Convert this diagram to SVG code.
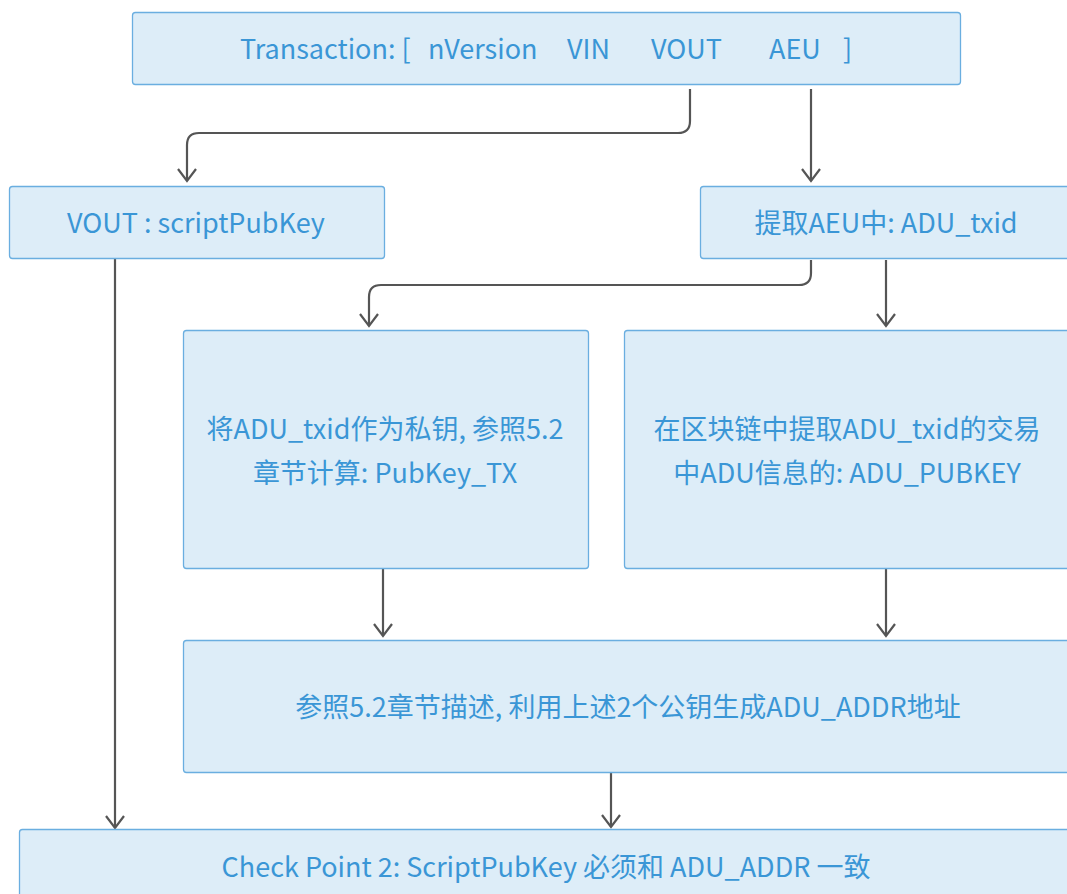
<svg xmlns="http://www.w3.org/2000/svg" width="1067" height="894" viewBox="0 0 1067 894">
<style>
.box{fill:#ddedf8;stroke:#6aaee0;stroke-width:1.3}
.t{font-family:"Noto Sans CJK SC","Noto Sans",sans-serif;font-size:27px;fill:#3a96d6;text-anchor:middle}
.c{fill:none;stroke:#555;stroke-width:2.2}
</style>
<defs>
<marker id="ah" viewBox="0 0 14 20" refX="13" refY="10" markerWidth="14" markerHeight="20" markerUnits="userSpaceOnUse" orient="auto" overflow="visible">
<path d="M1,1 L13,10 L1,19" fill="none" stroke="#555" stroke-width="2.2"/>
</marker>
</defs>
<rect width="1067" height="894" fill="#fff"/>
<g id="connectors">
<path class="c" d="M690,89 V121 Q690,133 678,133 H199 Q187,133 187,145 V181" marker-end="url(#ah)"/>
<path class="c" d="M811,89 V181" marker-end="url(#ah)"/>
<path class="c" d="M115,259 V828" marker-end="url(#ah)"/>
<path class="c" d="M811,260 V273 Q811,285 799,285 H381 Q369,285 369,297 V326" marker-end="url(#ah)"/>
<path class="c" d="M886,260 V326" marker-end="url(#ah)"/>
<path class="c" d="M383,569 V636" marker-end="url(#ah)"/>
<path class="c" d="M886,569 V636" marker-end="url(#ah)"/>
<path class="c" d="M611,773 V827" marker-end="url(#ah)"/>
</g>
<g id="n1">
<rect class="box" x="132.5" y="12.5" width="828" height="72" rx="3"/>
<text class="t" y="59" style="text-anchor:start"><tspan x="240">Transaction: [</tspan><tspan x="428">nVersion</tspan><tspan x="567">VIN</tspan><tspan x="651">VOUT</tspan><tspan x="769">AEU</tspan><tspan x="843">]</tspan></text>
</g>
<g id="n2">
<rect class="box" x="9.5" y="186.5" width="375" height="72" rx="3"/>
<text class="t" x="196" y="233">VOUT : scriptPubKey</text>
</g>
<g id="n3">
<rect class="box" x="700.5" y="186.5" width="380" height="72" rx="3"/>
<text class="t" x="886" y="233">提取AEU中: ADU_txid</text>
</g>
<g id="n4">
<rect class="box" x="183.5" y="330.5" width="405" height="238" rx="3"/>
<text class="t" x="385" y="439">将ADU_txid作为私钥, 参照5.2</text>
<text class="t" x="385" y="483">章节计算: PubKey_TX</text>
</g>
<g id="n5">
<rect class="box" x="624.5" y="330.5" width="450" height="238" rx="3"/>
<text class="t" x="847" y="439">在区块链中提取ADU_txid的交易</text>
<text class="t" x="847" y="483">中ADU信息的: ADU_PUBKEY</text>
</g>
<g id="n6">
<rect class="box" x="183.5" y="640.5" width="890" height="132" rx="3"/>
<text class="t" x="628" y="717">参照5.2章节描述, 利用上述2个公钥生成ADU_ADDR地址</text>
</g>
<g id="n7">
<rect class="box" x="19.5" y="829.5" width="1060" height="80" rx="3"/>
<text class="t" x="546" y="877">Check Point 2:  ScriptPubKey 必须和 ADU_ADDR 一致</text>
</g>
</svg>
